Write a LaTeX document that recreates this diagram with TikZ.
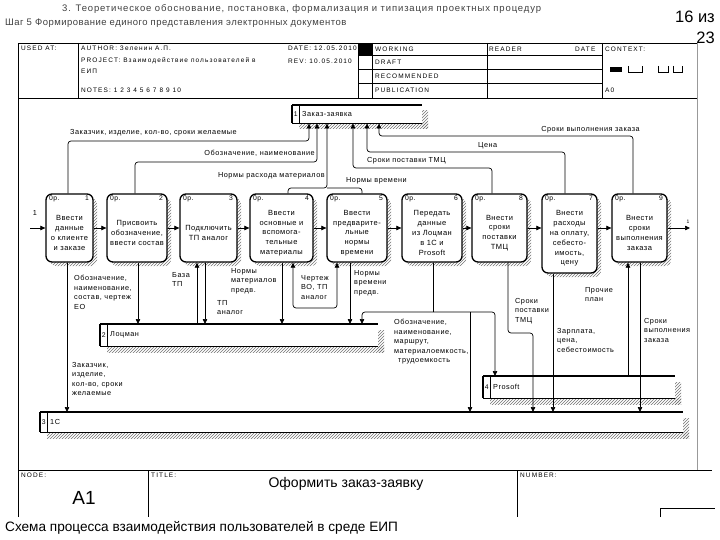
\documentclass[tikz,border=0pt]{standalone}
\usepackage{fontspec}
\setmainfont{Liberation Sans}
\newfontfamily\lblfont[LetterSpace=7]{Liberation Sans}
\newfontfamily\boxfont[LetterSpace=6]{Liberation Sans}
\newfontfamily\hdrfont[LetterSpace=17]{Liberation Sans}
\newfontfamily\headafont[LetterSpace=9]{Liberation Sans}
\newfontfamily\headbfont[LetterSpace=5]{Liberation Sans}
\usetikzlibrary{arrows.meta,patterns,calc}

\tikzset{
  shadowpat/.style={pattern=north east lines, pattern color=black!55},
  proc/.style={draw, line width=1.3pt, rounded corners=6pt, fill=white, inner sep=0pt},
  boxtext/.style={align=center, inner sep=0pt, font=\boxfont\fontsize{7.5}{9.8}\selectfont},
  corner/.style={inner sep=0pt, font=\lblfont\fontsize{6.8}{7}\selectfont},
  lbl/.style={inner sep=0pt, align=left, font=\lblfont\fontsize{7.3}{9.5}\selectfont},
  hdr/.style={inner sep=0pt, anchor=west, font=\hdrfont\fontsize{6.5}{7}\selectfont},
  arr/.style={-{Triangle[length=5pt,width=4.5pt]}, line width=0.7pt, rounded corners=3pt},
  arrboth/.style={{Triangle[length=5pt,width=4.5pt]}-{Triangle[length=5pt,width=4.5pt]}, line width=0.7pt, rounded corners=3pt},
  ln/.style={line width=0.7pt, rounded corners=3pt},
  frm/.style={line width=0.8pt}
}

% process box: name, x1, y1, x2, y2, text, number
\newcommand{\pbox}[7]{%
  \fill[shadowpat, rounded corners=6pt] (#2+4,#3+4) rectangle (#4+4,#5+4);
  \node[proc, minimum width=#4-#2, minimum height=#5-#3] (#1) at ({(#2+#4)/2},{(#3+#5)/2}) {};
  \node[boxtext] (#1t) at ({(#2+#4)/2},{(#3+#5)/2+5}) {#6};
  \node[corner, anchor=north west] (#1c) at (#2+3,#3+2) {0р.};
  \node[corner, anchor=north east] (#1n) at (#4-4,#3+2) {#7};
}

% tunnel (data store): name, x1, y1, x2, y2, number, text
\newcommand{\tunnel}[7]{%
  \fill[shadowpat] (#2+7,#5) rectangle (#4+6,#5+6);
  \fill[shadowpat] (#4,#3+6) rectangle (#4+6,#5+6);
  \node[fill=white, inner sep=0pt, minimum width=#4-#2, minimum height=#5-#3, anchor=north west] (#1) at (#2,#3) {};
  \draw[line width=1.8pt] (#1.north west) -- (#1.north east);
  \draw[line width=0.9pt] (#1.south west) -- (#1.south east);
  \draw[line width=1.5pt] (#1.north west) -- (#1.south west);
  \draw[line width=0.6pt] ([xshift=7pt]#1.north west) -- ([xshift=7pt]#1.south west);
  \node[corner] (#1n) at ([xshift=3.8pt]#1.west) {#6};
  \node[lbl, anchor=west] (#1t) at ([xshift=10pt]#1.west) {#7};
}

\begin{document}
\begin{tikzpicture}[x=1pt,y=-1pt]
\useasboundingbox (0,0) rectangle (720,540);

% ---------- page headings ----------
\node[anchor=west, inner sep=0pt, text=black!75, font=\headafont\fontsize{9.5}{11}\selectfont] (h1) at (62,9) {3. Теоретическое обоснование, постановка, формализация и типизация проектных процедур};
\node[anchor=west, inner sep=0pt, text=black!75, font=\headbfont\fontsize{9.5}{11}\selectfont] (h2) at (5,23) {Шаг 5 Формирование единого представления электронных документов};
\node[anchor=east, inner sep=0pt, font=\fontsize{16.5}{17}\selectfont] (p1) at (715,17) {16 из};
\node[anchor=east, inner sep=0pt, font=\fontsize{16.5}{17}\selectfont] (p2) at (715,38) {23};

% ---------- frame and header table ----------
\draw[frm] (18,517) -- (18,43) -- (697,43);
\draw[frm, black!40] (697,43) -- (697,470);
\draw[frm] (18,98) -- (697,98);
\foreach \xx in {78,358,372,487,602} \draw[frm] (\xx,43) -- (\xx,98);
\foreach \yy in {55,69,83} \draw[frm] (358,\yy) -- (602,\yy);
\fill (358,43) rectangle (372,55);

\node[hdr] (uat) at (21,48) {USED AT:};
\node[hdr] (aut) at (81,48) {AUTHOR: Зеленин А.П.};
\node[hdr] (prj) at (81,61) {PROJECT: Взаимодействие пользователей в};
\node[hdr] (prj2) at (81,71) {ЕИП};
\node[hdr] (nts) at (81,90) {NOTES: 1 2 3 4 5 6 7 8 9 10};
\node[hdr] (dte) at (288,48) {DATE: 12.05.2010};
\node[hdr] (rev) at (288,61) {REV: 10.05.2010};
\node[hdr] (wrk) at (375,49) {WORKING};
\node[hdr] (drf) at (375,62) {DRAFT};
\node[hdr] (rec) at (375,76) {RECOMMENDED};
\node[hdr] (pub) at (375,90) {PUBLICATION};
\node[hdr] (rdr) at (489,49) {READER};
\node[hdr] (rdt) at (575,49) {DATE};
\node[hdr] (ctx) at (605,49) {CONTEXT:};
\node[hdr] (a0) at (605,90) {A0};
% context thumbnail
\fill (610,67) rectangle (622,72);
\draw[line width=0.6pt] (628,66) -- (628,72) -- (642,72) -- (642,66);
\draw[line width=0.6pt] (658,66) -- (658,72) -- (668,72) -- (668,66);
\draw[line width=0.6pt] (673,66) -- (673,72) -- (682,72) -- (682,66);

% ---------- bottom table ----------
\draw[frm] (18,470) -- (712,470);
\draw[frm] (148,470) -- (148,517);
\draw[frm] (517,470) -- (517,517);
\draw[frm] (660,517) -- (660,508) -- (715,508);
\node[hdr] (nde) at (21,475) {NODE:};
\node[hdr] (ttl) at (151,475) {TITLE:};
\node[hdr] (nbr) at (520,475) {NUMBER:};
\node[inner sep=0pt, font=\fontsize{19}{20}\selectfont] (a1) at (84,498) {A1};
\node[inner sep=0pt, font=\fontsize{14}{15}\selectfont] (tname) at (346,484) {Оформить заказ-заявку};
\node[anchor=west, inner sep=0pt, font=\fontsize{13.6}{14}\selectfont] (cap) at (5,528) {Схема процесса взаимодействия пользователей в среде ЕИП};

% ---------- tunnels ----------
\tunnel{t1}{292}{105}{422}{123}{1}{Заказ-заявка}
\tunnel{t2}{100}{324}{378}{346}{2}{Лоцман}
\tunnel{t3}{40}{412}{683}{432}{3}{1С}
\tunnel{t4}{483}{376}{675}{398}{4}{Prosoft}

% ---------- process boxes ----------
\pbox{b1}{46}{194}{93}{262}{Ввести\\данные\\о клиенте\\и заказе}{1}
\pbox{b2}{107}{194}{167}{262}{Присвоить\\обозначение,\\ввести состав}{2}
\pbox{b3}{180}{194}{237}{262}{Подключить\\ТП аналог}{3}
\pbox{b4}{250}{194}{313}{262}{Ввести\\основные и\\вспомога-\\тельные\\материалы}{4}
\pbox{b5}{327}{194}{387}{262}{Ввести\\предварите-\\льные\\нормы\\времени}{5}
\pbox{b6}{402}{194}{462}{262}{Передать\\данные\\из Лоцман\\в 1С и\\Prosoft}{6}
\pbox{b7}{472}{194}{527}{262}{Внести\\сроки\\поставки\\ТМЦ}{8}
\pbox{b8}{542}{194}{597}{273}{Внести\\расходы\\на оплату,\\себесто-\\имость,\\цену}{7}
\pbox{b9}{612}{194}{667}{262}{Внести\\сроки\\выполнения\\заказа}{9}

% ---------- flows between boxes ----------
\coordinate (in1) at (30,228);
\coordinate (out9) at (690,228);
\draw[arr] (in1) -- (b1.west);
\node[lbl] (lin) at (35,213) {1};
\draw[arr] (b1.east) -- (b2.west);
\draw[arr] (b2.east) -- (b3.west);
\draw[arr] (b3.east) -- (b4.west);
\draw[arr] (b4.east) -- (b5.west);
\draw[arr] (b5.east) -- (b6.west);
\draw[arr] (b6.east) -- (b7.west);
\draw[arr] (b7.east) -- (b7.east -| b8.west);
\draw[arr] (b9.west -| b8.east) -- (b9.west);
\draw[arr] (b9.east) -- (out9);
\node[lbl, font=\fontsize{5}{6}\selectfont] (lout) at (688,222) {1};

% ---------- flows to "Заказ-заявка" ----------
\draw[arr] (68,0 |- b1.north) -- (68,141) -- (309,141) -- (309,0 |- t1.south);
\draw[arr] (135,0 |- b2.north) -- (135,162) -- (317,162) -- (317,0 |- t1.south);
\draw[arr] (288,0 |- b4.north) -- (288,188) -- (327,188) -- (327,0 |- t1.south);
\draw[ln] (327,188) -- (362,188) -- (362,0 |- b5.north);
\draw[arr] (492,0 |- b7.north) -- (492,168) -- (353,168) -- (353,0 |- t1.south);
\draw[arr] (565,0 |- b8.north) -- (565,152) -- (367,152) -- (367,0 |- t1.south);
\draw[arr] (633,0 |- b9.north) -- (633,136) -- (379,136) -- (379,0 |- t1.south);

\node[lbl, anchor=west] (lA) at (70,133) {Заказчик, изделие, кол-во, сроки желаемые};
\node[lbl, anchor=east] (lB) at (315,153) {Обозначение, наименование};
\node[lbl, anchor=east] (lC) at (325,176) {Нормы расхода материалов};
\node[lbl, anchor=west] (lG) at (346,181) {Нормы времени};
\node[lbl, anchor=west] (lD) at (367,161) {Сроки поставки ТМЦ};
\node[lbl, anchor=west] (lE) at (478,146) {Цена};
\node[lbl, anchor=east] (lF) at (640,130) {Сроки выполнения заказа};

% ---------- flows below the boxes ----------
\draw[arr] (67,0 |- b1.south) -- (67,0 |- t3.north);
\draw[arr] (138,0 |- b2.south) -- (138,0 |- t2.north);
\draw[arr] (197,0 |- t2.north) -- (197,0 |- b3.south);
\draw[arr] (205,0 |- b3.south) -- (205,0 |- t2.north);
\draw[arr] (282,0 |- b4.south) -- (282,0 |- t2.north);
\draw[arrboth] (293,0 |- b4.south) -- (293,308) -- (337,308) -- (337,0 |- b5.south);
\draw[arr] (350,0 |- b5.south) -- (350,0 |- t2.north);
\draw[ln] (433,0 |- b6.south) -- (433,312);
\draw[arr] (433,312) -- (362,312) -- (362,0 |- t2.north);
\draw[arr] (433,312) -- (495,312) -- (495,0 |- t4.north);
\draw[arr] (470,312) -- (470,0 |- t3.north);
\draw[arr] (508,0 |- b7.south) -- (508,333) -- (533,333) -- (533,0 |- t3.north);
\draw[arr] (553,0 |- b8.south) -- (553,0 |- t3.north);
\draw[arr] (628,0 |- t4.north) -- (628,0 |- b9.south);
\draw[arr] (640,0 |- b9.south) -- (640,0 |- t3.north);

\node[lbl, anchor=north west] (l1) at (74,275) {Обозначение,\\наименование,\\состав, чертеж\\ЕО};
\node[lbl, anchor=north west] (l2) at (172,272) {База\\ТП};
\node[lbl, anchor=north west] (l3) at (231,268) {Нормы\\материалов\\предв.};
\node[lbl, anchor=north west] (l4) at (217,300) {ТП\\аналог};
\node[lbl, anchor=north west] (l5) at (301,275) {Чертеж\\ВО, ТП\\аналог};
\node[lbl, anchor=north west] (l6) at (354,270) {Нормы\\времени\\предв.};
\node[lbl, anchor=north west] (l7) at (394,319) {Обозначение,\\наименование,\\маршрут,\\материалоемкость,\\\hspace*{4pt}трудоемкость};
\node[lbl, anchor=north west] (l8) at (515,298) {Сроки\\поставки\\ТМЦ};
\node[lbl, anchor=north west] (l9) at (585,287) {Прочие\\план};
\node[lbl, anchor=north west] (l10) at (557,328) {Зарплата,\\цена,\\себестоимость};
\node[lbl, anchor=north west] (l11) at (644,318) {Сроки\\выполнения\\заказа};
\node[lbl, anchor=north west] (l12) at (72,362) {Заказчик,\\изделие,\\кол-во, сроки\\желаемые};

\end{tikzpicture}
\end{document}
